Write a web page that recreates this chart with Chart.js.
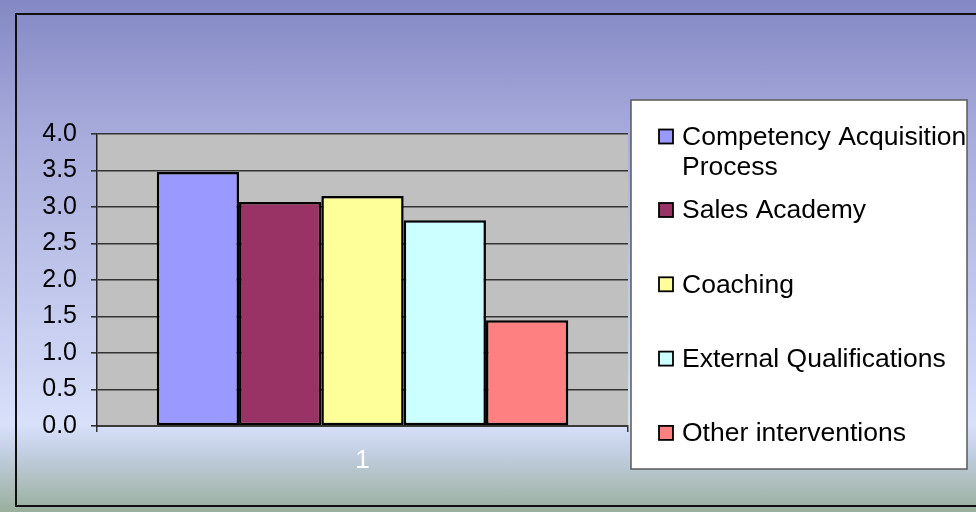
<!DOCTYPE html>
<html>
<head>
<meta charset="utf-8">
<script src="https://cdn.jsdelivr.net/npm/chart.js@4/dist/chart.umd.min.js"></script>
<style>
  html, body { margin: 0; padding: 0; }
  body {
    width: 976px; height: 512px; overflow: hidden; position: relative;
    background: linear-gradient(to bottom, #8488c4 0%, #a8acdc 27%, #d8e0fa 83%, #c4d0e4 88%, #9aaf9c 100%);
  }
  #frame {
    position: absolute; left: 15px; top: 13px; width: 990px; height: 494px;
    border: 2px solid #101010; box-sizing: border-box;
  }
  #wrap { position: absolute; left: 0; top: 0; width: 976px; height: 512px; }
</style>
</head>
<body>
<div id="frame"></div>
<div id="wrap"><canvas id="chart" width="976" height="512"></canvas></div>
<script>
// Survey scores per development intervention
const categories = ['1'];
const seriesNames = [
  'Competency Acquisition Process',
  'Sales Academy',
  'Coaching',
  'External Qualifications',
  'Other interventions'
];
const seriesValues = [3.48, 3.07, 3.15, 2.82, 1.45];
const seriesColors = ['#9999FF', '#993366', '#FFFF99', '#CCFFFF', '#FF8080'];
const yMin = 0, yMax = 4, yStep = 0.5;

const FONT = '"Liberation Sans", Arial, Helvetica, sans-serif';

// Grey plot background behind the bars
const plotBackground = {
  id: 'plotBackground',
  beforeDraw(chart) {
    const { ctx, chartArea: a } = chart;
    ctx.save();
    ctx.fillStyle = '#C0C0C0';
    ctx.fillRect(a.left, a.top, a.right - a.left, a.bottom - a.top);
    ctx.restore();
  }
};

// Boxed legend on the right, with word-wrapped labels
const boxLegend = {
  id: 'boxLegend',
  afterDraw(chart) {
    const ctx = chart.ctx;
    const box = { x: 631, y: 100, w: 336, h: 369 };
    ctx.save();
    ctx.fillStyle = '#ffffff';
    ctx.fillRect(box.x, box.y, box.w, box.h);
    ctx.strokeStyle = '#5a5a5a';
    ctx.lineWidth = 1.5;
    ctx.strokeRect(box.x, box.y, box.w, box.h);

    ctx.font = '26.5px ' + FONT;
    ctx.textBaseline = 'middle';
    ctx.textAlign = 'left';
    const textX = 682, swX = 659, sw = 14;
    const maxW = box.x + box.w - textX + 2;
    const lineH = 30;

    chart.data.datasets.forEach((ds, i) => {
      // wrap label into lines
      const words = ds.label.split(' ');
      const lines = [];
      let cur = '';
      words.forEach(w => {
        const t = cur ? cur + ' ' + w : w;
        if (ctx.measureText(t).width > maxW && cur) { lines.push(cur); cur = w; }
        else cur = t;
      });
      if (cur) lines.push(cur);

      const yTop = i === 0 ? 136.5 : 210 + (i - 1) * 74.3;
      ctx.fillStyle = ds.backgroundColor;
      ctx.fillRect(swX, yTop - sw / 2, sw, sw);
      ctx.strokeStyle = '#000';
      ctx.lineWidth = 1.8;
      ctx.strokeRect(swX, yTop - sw / 2, sw, sw);
      ctx.fillStyle = '#000';
      lines.forEach((ln, k) => ctx.fillText(ln, textX, yTop + 1 + k * lineH));
    });
    ctx.restore();
  }
};

new Chart(document.getElementById('chart'), {
  type: 'bar',
  data: {
    labels: categories,
    datasets: seriesNames.map((name, i) => ({
      label: name,
      data: [seriesValues[i]],
      backgroundColor: seriesColors[i],
      borderColor: '#000000',
      borderWidth: 2.5,
      borderSkipped: false,
      categoryPercentage: 0.775,
      barPercentage: 1.0
    }))
  },
  options: {
    responsive: false,
    animation: false,
    devicePixelRatio: 1,
    layout: { padding: { left: 0, top: 134, right: 348, bottom: 0 } },
    plugins: {
      legend: { display: false },
      tooltip: { enabled: false },
      title: { display: false }
    },
    scales: {
      x: {
        offset: true,
        grid: {
          offset: true,
          drawOnChartArea: false,
          drawTicks: true,
          tickLength: 6,
          color: '#333333',
          lineWidth: 1.5
        },
        border: { display: true, color: '#3a3a3a', width: 2 },
        ticks: {
          color: '#ffffff',
          font: { family: FONT, size: 26 },
          padding: 13
        },
        afterFit(scale) { scale.height = 86; }
      },
      y: {
        min: yMin,
        max: yMax,
        ticks: {
          stepSize: yStep,
          color: '#000000',
          font: { family: FONT, size: 25 },
          padding: 14,
          callback: v => Number(v).toFixed(1)
        },
        grid: {
          color: '#333333',
          lineWidth: 1.6,
          tickLength: 6,
          drawTicks: true
        },
        border: { display: true, color: '#222222', width: 1.5 },
        afterFit(scale) { scale.width = 97; }
      }
    }
  },
  plugins: [plotBackground, boxLegend]
});
</script>
</body>
</html>
